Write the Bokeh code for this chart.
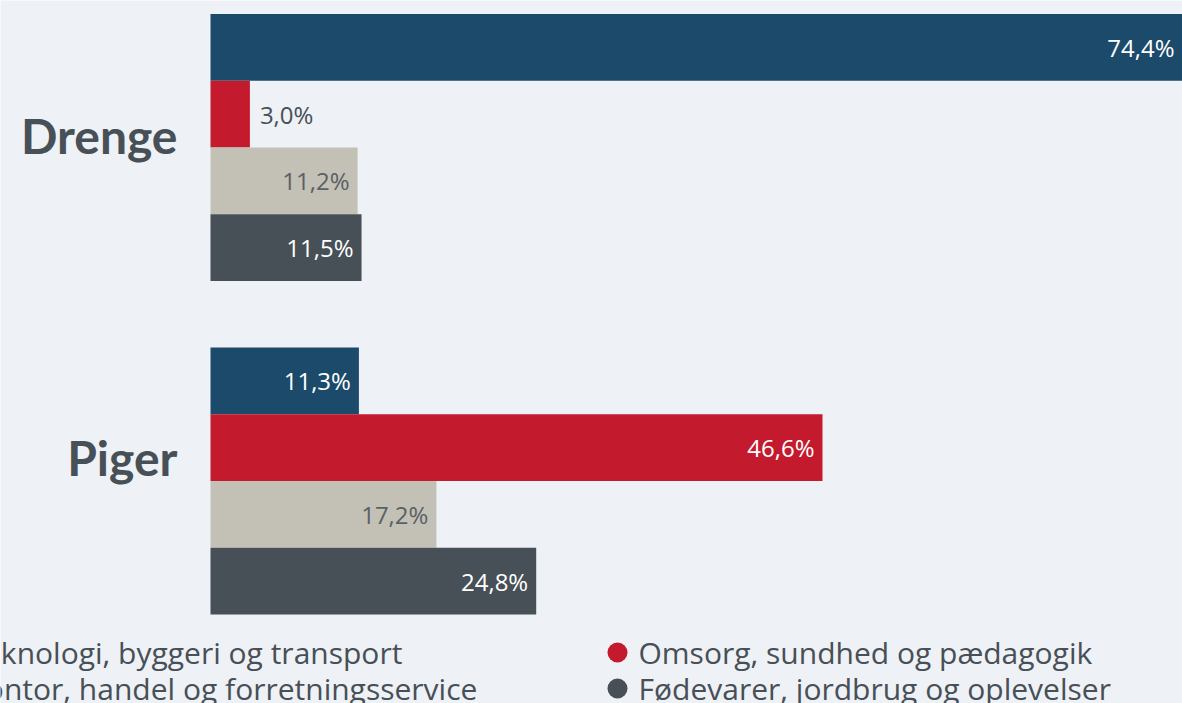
from bokeh.plotting import figure
from bokeh.models import Range1d, ColumnDataSource
from bokeh.core.properties import value
from bokeh.embed import file_html
from bokeh.resources import INLINE

# ---- data ----
groups = ["Drenge", "Piger"]
series = [
    "Teknologi, byggeri og transport",
    "Omsorg, sundhed og pædagogik",
    "Kontor, handel og forretningsservice",
    "Fødevarer, jordbrug og oplevelser",
]
colors = ["#1B4A6B", "#C41A2E", "#C3C1B5", "#474F57"]
label_colors = ["#FFFFFF", "#FFFFFF", "#5A6066", "#FFFFFF"]
drenge = [74.4, 3.0, 11.2, 11.5]
piger = [11.3, 46.6, 17.2, 24.8]
values = {"Drenge": drenge, "Piger": piger}

BG = "#EEF1F5"
TXT = "#474F57"
W, H = 1182, 703
PX_PER_PCT = 13.133
LEFT = 210          # pixel where 0 % lies
UNIT_PX = 333.5     # pixels per group unit
TOP_CENTER_PX = 147 # pixel of the upper group's centre

group_pos = {"Drenge": 1.5, "Piger": 0.5}
offsets = [0.3, 0.1, -0.1, -0.3]
bar_h = 0.2

x0 = -LEFT / PX_PER_PCT
x1 = (W - LEFT) / PX_PER_PCT
y1 = 1.5 + TOP_CENTER_PX / UNIT_PX
y0 = y1 - H / UNIT_PX

p = figure(width=W, height=H, output_backend="svg", toolbar_location=None,
           x_range=Range1d(x0, x1), y_range=Range1d(y0, y1), min_border=0)
p.extra_x_ranges = {"px": Range1d(0, W)}
p.extra_y_ranges = {"px": Range1d(H, 0)}
p.background_fill_color = BG
p.border_fill_color = BG
p.outline_line_color = None
p.grid.visible = False
p.axis.visible = False

for i, s in enumerate(series):
    ys = [group_pos[g] + offsets[i] for g in groups]
    vs = [values[g][i] for g in groups]
    p.hbar(y=ys, right=vs, left=0, height=bar_h, color=colors[i], line_color=None)
    ins_x, ins_y, ins_t = [], [], []
    out_x, out_y, out_t = [], [], []
    for y, v in zip(ys, vs):
        t = f"{v:.1f}".replace(".", ",") + "%"
        if v < 5:
            out_x.append(v); out_y.append(y); out_t.append(t)
        else:
            ins_x.append(min(v, x1)); ins_y.append(y); ins_t.append(t)
    if ins_x:
        p.text(x=ins_x, y=ins_y, text=ins_t, text_align="right", text_baseline="middle",
               x_offset=-8, text_color=label_colors[i], text_font=value("Open Sans"),
               text_font_size="24px")
    if out_x:
        p.text(x=out_x, y=out_y, text=out_t, text_align="left", text_baseline="middle",
               x_offset=10, text_color=TXT, text_font=value("Open Sans"),
               text_font_size="24px")

# category labels (left of the bars)
p.text(x=[0] * len(groups), y=[group_pos[g] for g in groups], text=groups,
       text_align="right", text_baseline="middle", x_offset=-33, y_offset=[-12, -24],
       text_color=TXT, text_font=value("Lato"), text_font_style="bold",
       text_font_size="48px")

# ---- legend (two columns, row-major) ----
col_x = [-54, 617]
row_y = [652, 688]
mx = [col_x[i % 2] for i in range(len(series))]
my = [row_y[i // 2] for i in range(len(series))]
src = ColumnDataSource(dict(x=mx, y=my, tx=[x + 21 for x in mx], c=colors, t=series))
p.scatter(x="x", y="y", size=20, color="c", line_color=None, source=src,
          x_range_name="px", y_range_name="px")
p.text(x="tx", y="y", text="t", text_baseline="middle", text_align="left",
       text_color=TXT, text_font=value("Open Sans"), text_font_size="30px", source=src,
       x_range_name="px", y_range_name="px")

open("out.html", "w").write(file_html(p, INLINE))
